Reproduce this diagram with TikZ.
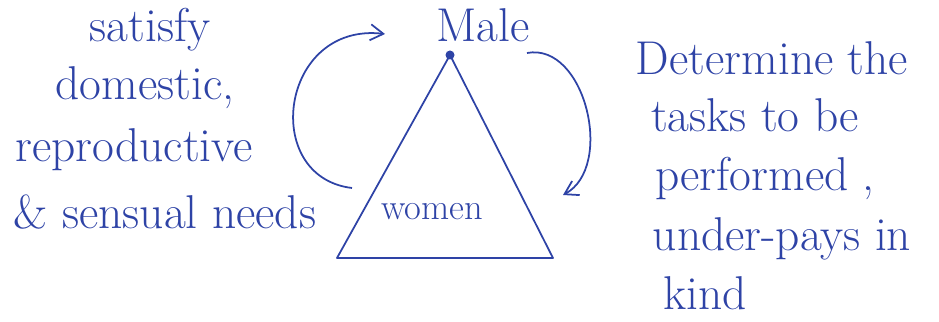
\documentclass[tikz,border=0pt]{standalone}
\usepackage{tikz}
\usetikzlibrary{arrows.meta,positioning}
\definecolor{dink}{HTML}{2E43A6}
\tikzset{
  >={Straight Barb[length=2.6mm,width=3.2mm]},
  dline/.style={draw=dink, line width=1pt, line join=round},
  dlbl/.style={dink, font=\fontsize{27}{31}\selectfont, inner sep=1pt},
  dsml/.style={dlbl, font=\huge},
  darr/.style={->, dink, line width=1pt},
}
\begin{document}
\begin{tikzpicture}[x=1cm,y=1cm]

  \useasboundingbox (0,0) rectangle (18.78,6.44);

  % triângulo
  \coordinate (apex) at (9.0,5.34);
  \coordinate (bl)   at (6.74,1.28);
  \coordinate (br)   at (11.06,1.28);
  \draw[dline] (apex) -- (bl) -- (br) -- cycle;
  \fill[dink] (apex) circle (0.09);

  \node[dlbl] (male)  at (9.66,5.94) {Male};
  \node[dsml] (women) at (8.64,2.20) {women};

  % texto da esquerda
  \node[dlbl] (sat) at (3.00,5.84) {satisfy};
  \node[dlbl] (dom) at (2.90,4.68) {domestic,};
  \node[dlbl] (rep) at (2.68,3.44) {reproductive};
  \node[dlbl] (sen) at (3.30,2.20) {\& sensual needs};

  % texto da direita
  \node[dlbl] (det) at (15.44,5.28) {Determine the};
  \node[dlbl] (tas) at (15.10,4.14) {tasks to be};
  \node[dlbl] (per) at (15.30,2.88) {performed ,};
  \node[dlbl] (und) at (15.64,1.66) {under-pays in};
  \node[dlbl] (kin) at (14.10,0.58) {kind};

  % setas
  \coordinate (lsrc) at (7.04,2.68);
  \coordinate (ldst) at (7.70,5.76);
  \draw[darr] (lsrc) .. controls (5.2,2.9) and (5.6,6.0) .. (ldst);

  \coordinate (rsrc) at (10.54,5.38);
  \coordinate (rdst) at (11.26,2.54);
  \draw[darr] (rsrc) .. controls (11.7,5.6) and (12.3,3.1) .. (rdst);

\end{tikzpicture}
\end{document}
